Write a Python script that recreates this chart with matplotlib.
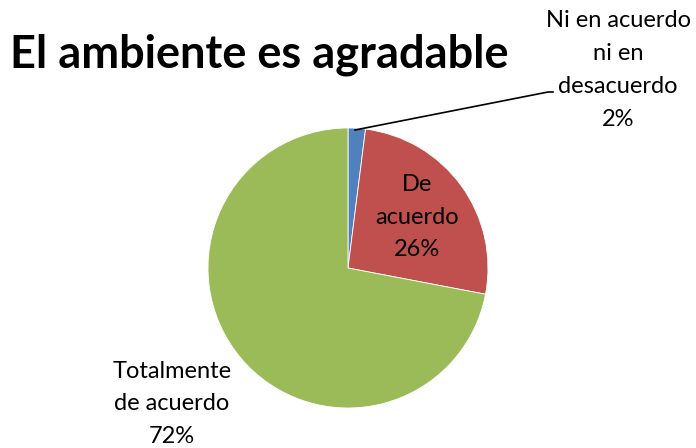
import matplotlib
matplotlib.use('Agg')
import matplotlib.pyplot as plt

plt.rcParams['font.family'] = ['Lato', 'DejaVu Sans']

title = 'El ambiente es agradable'
labels = ['Ni en acuerdo\nni en\ndesacuerdo', 'De\nacuerdo', 'Totalmente\nde acuerdo']
values = [2, 26, 72]
colors = ['#4F81BD', '#C0504D', '#9BBB59']

W, H = 696, 448
fig = plt.figure(figsize=(W / 100, H / 100), dpi=100)

# pie center and radius in pixels
cx, cy, r = 348, 268, 140
ax = fig.add_axes([(cx - r) / W, (H - cy - r) / H, 2 * r / W, 2 * r / H])
ax.pie(values, colors=colors, startangle=90, counterclock=False,
       radius=1, wedgeprops=dict(edgecolor='white', linewidth=0.6))
ax.set_xlim(-1, 1)
ax.set_ylim(-1, 1)
ax.set_aspect('equal')
ax.axis('off')

def px(x, y):
    # pixel position -> data coords of the pie axes
    return (x - cx) / r, (cy - y) / r

# label positions in pixels
label_pos = [(618, 70), (417, 217), (172, 404)]
for lab, v, (x, y) in zip(labels, values, label_pos):
    dx, dy = px(x, y)
    ax.text(dx, dy, f'{lab}\n{v}%', ha='center', va='center', fontsize=17,
            linespacing=1.7, clip_on=False)

# leader line for the small slice
x0, y0 = px(355, 130)
x1, y1 = px(548, 92)
x2, y2 = px(553, 92)
ax.plot([x0, x1, x2], [y0, y1, y2], color='black', lw=1.2, clip_on=False)

fig.text(10 / W, 1 - 55 / H, title, ha='left', va='center',
         fontsize=32.5, fontweight='bold')

fig.savefig('out.png', dpi=100)
